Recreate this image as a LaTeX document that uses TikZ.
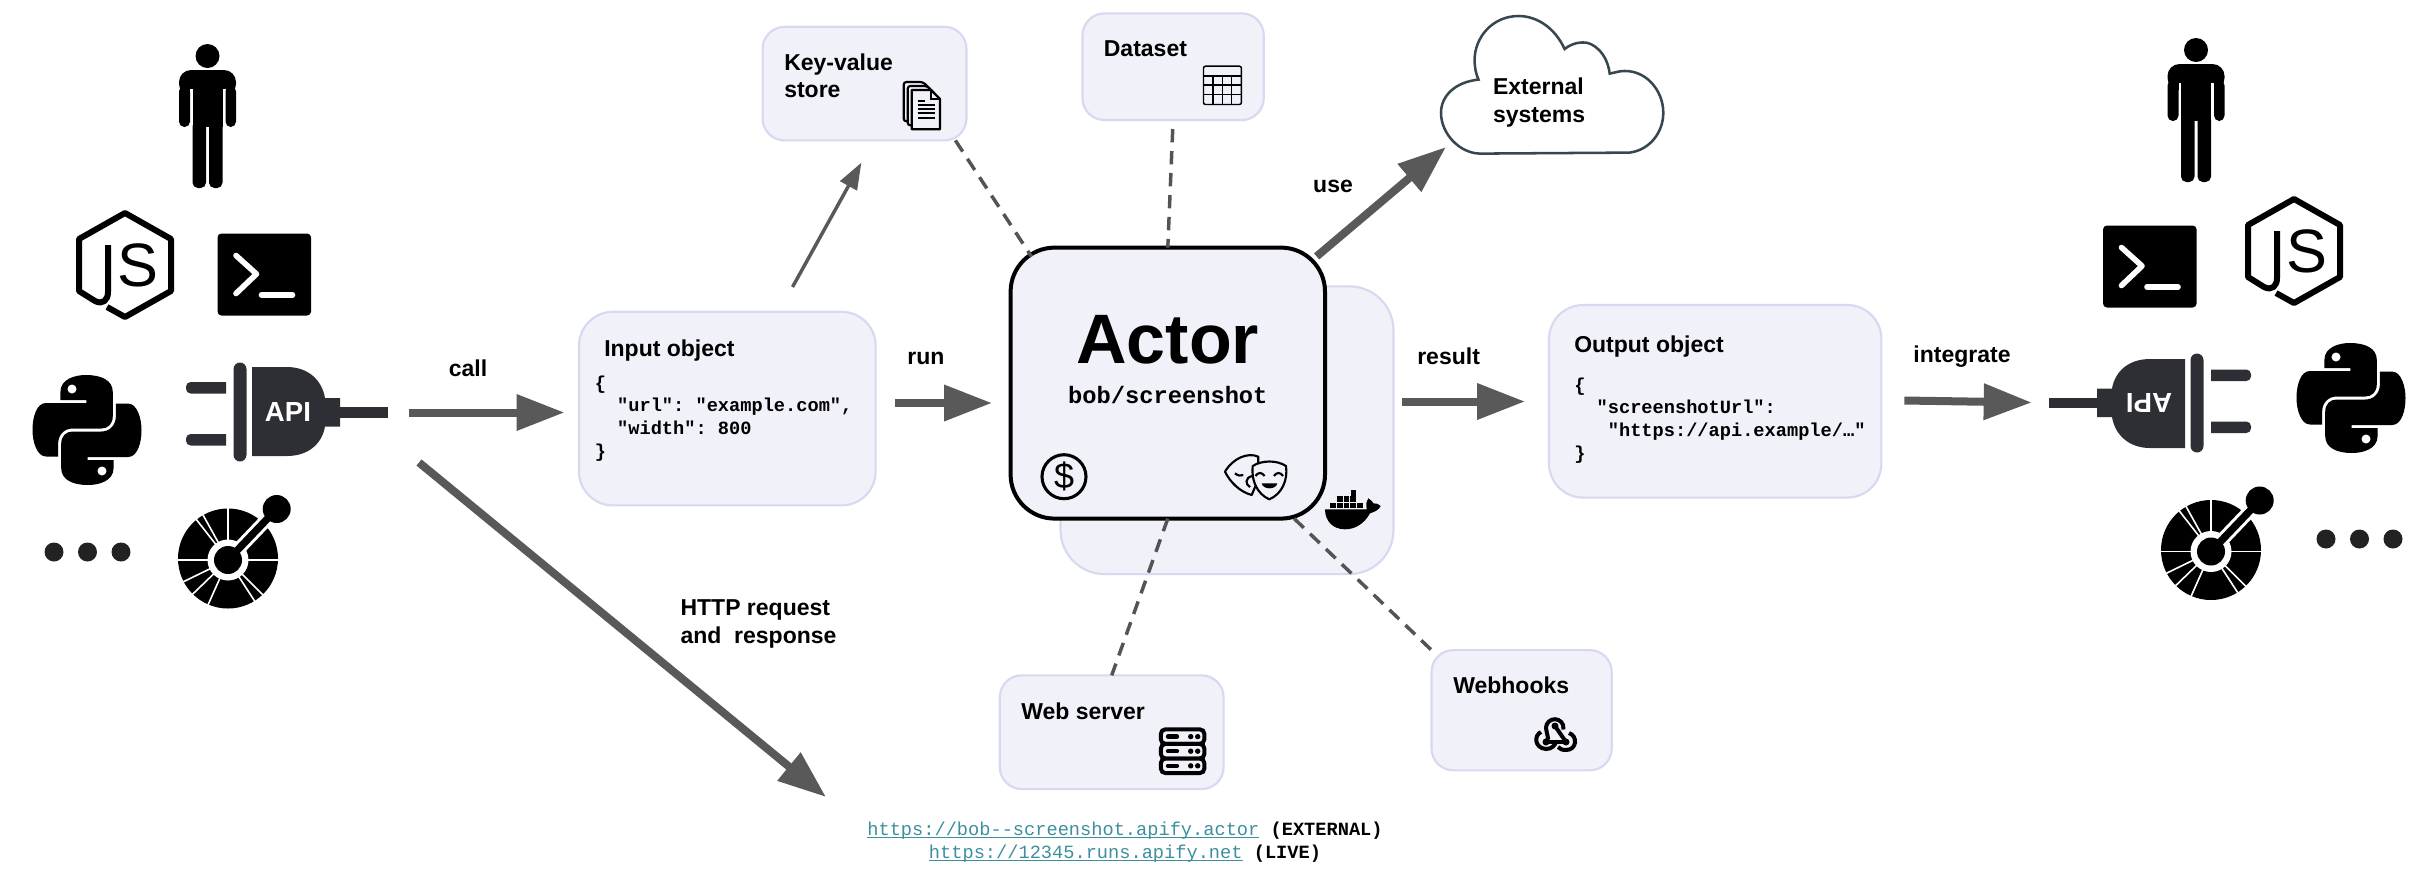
\documentclass[tikz,border=0pt]{standalone}
\usepackage{fontspec}
\setmainfont{Liberation Sans}
\setmonofont{Liberation Mono}
\usetikzlibrary{arrows.meta}

\definecolor{plugdark}{RGB}{45,47,52}
\definecolor{linkteal}{RGB}{61,143,158}
\definecolor{panelfill}{RGB}{240,241,249}
\definecolor{paneledge}{RGB}{214,217,240}
\definecolor{flowgray}{RGB}{89,89,89}
\definecolor{dashgray}{RGB}{84,84,84}
\definecolor{clouddark}{RGB}{55,71,79}
\definecolor{dotdark}{RGB}{34,34,34}

\newcommand{\urlline}[1]{\textcolor{linkteal}{\setbox0=\hbox{\mdseries #1}\rlap{\rule[-2.2pt]{\wd0}{1.1pt}}\box0}}

\tikzset{
    every pic/.style={yscale=-1},
    panel/.style={draw=paneledge, fill=panelfill, line width=1.6pt, inner sep=0pt, outer sep=0pt},
    actorpanel/.style={panel, draw=black, line width=3pt, rounded corners=33pt},
    boxtitle/.style={anchor=west, inner sep=0pt, align=left, font=\fontsize{17.25}{20.5}\selectfont\bfseries},
    flowlabel/.style={inner sep=0pt, font=\fontsize{17.25}{20.5}\selectfont\bfseries},
    codetext/.style={anchor=north west, inner sep=0pt, align=left, font=\fontsize{14}{17}\selectfont\ttfamily\bfseries},
    flow/.style={draw=flowgray, line width=6pt, -{Triangle[length=36pt,width=26pt]}},
    thinflow/.style={draw=flowgray, line width=2.6pt, -{Triangle[length=20pt,width=14pt]}},
    dashlink/.style={draw=dashgray, line width=2.6pt, dash pattern=on 10pt off 6.5pt},
    icon/.style={line width=1.6pt, draw=black},
    plugtext/.style={},
    person/.pic={
        \fill (0,0) circle (12);
        \fill[rounded corners=9pt] (-28.5,40) -- (-28.5,14) -- (28.5,14) -- (28.5,40) -- cycle;
        \fill[white] (-17.5,33) rectangle (-15,80);
        \fill[white] (15,33) rectangle (18,80);
        \fill[white] (-29,40) rectangle (-17.5,45);
        \fill[rounded corners=4pt] (-28.5,30) rectangle (-17.5,71);
        \fill[rounded corners=4pt] (18,30) rectangle (28.5,71);
        \fill (-15,25) rectangle (15,71);
        \fill[rounded corners=4pt] (-15,65) rectangle (-1.5,132);
        \fill[rounded corners=4pt] (1.5,65) rectangle (15,132);
    },
    jslogo/.pic={
        \draw[line width=4.5pt, line join=round] (-18,42) -- (0,52) -- (46,26) -- (46,-26) -- (0,-52) -- (-46,-26) -- (-46,26) -- (-30,36) .. controls (-22,40) and (-17,35) .. (-17,27) -- (-17,-20);
        \node[inner sep=0pt, font=\fontsize{46}{46}\selectfont] (-s) at (13,0) {S};
    },
    termlogo/.pic={
        \fill[rounded corners=3pt] (0,0) rectangle (93.6,82);
        \draw[white, line width=4.2pt, line cap=round, line join=round] (18.5,22) -- (39,40.5) -- (18.5,60);
        \draw[white, line width=4.2pt, line cap=round] (44,61.5) -- (75,61.5);
    },
    pylogo/.pic={
        \foreach \r in {0,180} {
            \begin{scope}[rotate=\r]
                \fill (-26.6,-38) .. controls (-26.6,-51) and (-12,-55) .. (-1,-55) .. controls (14,-55) and (25.8,-50) .. (25.8,-38) -- (25.8,-14) .. controls (25.8,-6) and (21,-1.5) .. (14.3,-1.5) -- (-14.3,-1.5) .. controls (-23,-1.5) and (-28.9,5) .. (-28.9,14) -- (-28.9,26.5) -- (-41,26.5) .. controls (-50,26.5) and (-54.5,12) .. (-54.5,0) .. controls (-54.5,-14) and (-50,-27) .. (-41,-27) -- (-0.6,-27) -- (-0.6,-30) -- (-26.6,-30) -- cycle;
                \fill[white] (-15,-41) circle (4.5);
            \end{scope}
        }
    },
    plug/.pic={
        \fill[plugdark] (-14,-30) [rounded corners=3.5pt] -- (-54,-30) -- (-54,-18.5) [sharp corners] -- (-14,-18.5) -- cycle;
        \fill[plugdark] (-14,22) [rounded corners=3.5pt] -- (-54,22) -- (-54,33.5) [sharp corners] -- (-14,33.5) -- cycle;
        \fill[plugdark, rounded corners=4.9pt] (-6.5,-49.5) rectangle (6.5,49.5);
        \fill[plugdark] (12,-45) -- (47,-45) .. controls (68,-45) and (82,-32) .. (85,-14) -- (100,-14) -- (100,14.5) -- (85,14.5) .. controls (82,32) and (68,44) .. (47,44) -- (12,44) -- cycle;
        \fill[plugdark] (100,-5) rectangle (148,5.5);
        \node[plugtext, text=white, inner sep=0pt, font=\fontsize{20.7}{24}\selectfont\bfseries] (-s) at (48,0) {API};
    },
    openapilogo/.pic={
        \fill (0,0) circle (50);
        \foreach \a in {-90,-119,-128,180,154,136,114,57,45,0} {
            \draw[white, line width=1.2pt] (0,1.5) -- ++(\a:52);
        }
        \draw[white, line width=10pt] (0,1.5) -- (48.7,-49.5);
        \fill[white] (0,1.5) circle (20.5);
        \fill (0,1.5) circle (14);
        \draw[line width=5.5pt] (0,1.5) -- (48.7,-49.5);
        \fill (48.7,-49.5) circle (14);
    },
    threedots/.pic={
        \foreach \x in {-33.5,0,33.5} {
            \fill[dotdark] (\x,0) circle (9.5);
        }
    }
}

\begin{document}
\begin{tikzpicture}[x=0.75pt,y=0.75pt,yscale=-1,xscale=1]
    \useasboundingbox (0,0) rectangle (2432,876);

    %Left clients
    \pic at (207.5,56) {person};
    \pic at (125,265) {jslogo};
    \pic at (217.5,233.5) {termlogo};
    \pic at (87,430) {pylogo};
    \pic at (240,412) {plug};
    \pic at (87.5,552) {threedots};
    \pic at (228,558.5) {openapilogo};

    %Right clients
    \pic at (2196,50) {person};
    \pic at (2294,251) {jslogo};
    \pic at (2103,225.5) {termlogo};
    \pic at (2351,398) {pylogo};
    \pic[rotate=180, plugtext/.style={rotate=180}] at (2197,403) {plug};
    \pic at (2359.5,539) {threedots};
    \pic at (2211,550) {openapilogo};

    %Boxes
    \node[panel, rounded corners=16.5pt, minimum width=152.9pt, minimum height=85.2pt] (kvstore) at (864.5,83.6) {};
    \node[panel, rounded corners=16.5pt, minimum width=136pt, minimum height=80pt] (dataset) at (1173.1,66.7) {};
    \node[panel, rounded corners=25.5pt, minimum width=222.5pt, minimum height=145.2pt] (input) at (727.3,408.6) {};
    \node[panel, rounded corners=33pt, minimum width=249.7pt, minimum height=215.8pt] (actorback) at (1227,430.2) {};
    \node[actorpanel, minimum width=235.8pt, minimum height=203.25pt] (actor) at (1167.8,383.1) {};
    \node[panel, rounded corners=25.5pt, minimum width=249.3pt, minimum height=144.4pt] (output) at (1715.2,401.3) {};
    \node[panel, rounded corners=16.5pt, minimum width=167.9pt, minimum height=85.3pt] (webserver) at (1111.7,732.2) {};
    \node[panel, rounded corners=16.5pt, minimum width=135.2pt, minimum height=90.2pt] (webhooks) at (1521.6,710.2) {};

    %Shape: Cloud
    \draw[draw=clouddark, line width=1.9pt, fill=white] (1480.4,153.6) -- (1629.6,152.6) .. controls (1650,150) and (1663.3,132) .. (1663.3,112.8) .. controls (1663.3,90) and (1645,68) .. (1620,71.3) -- (1609.7,73.6) .. controls (1607,52) and (1592,42) .. (1583.7,42.5) .. controls (1576,42) and (1568,46) .. (1564.6,49) .. controls (1555,28) and (1537,16) .. (1518.6,16) .. controls (1492,16) and (1474.6,38) .. (1474.6,59.7) .. controls (1474.6,68) and (1476,74) .. (1478.5,79.6) .. controls (1455,82) and (1441,96) .. (1441,112.8) .. controls (1441,134) and (1460,153.6) .. (1480.4,153.6) -- cycle;

    %Free ends
    \coordinate (callstart) at (409,412.5);
    \coordinate (callend) at (564.5,412.5);
    \coordinate (httpstart) at (419,462.5);
    \coordinate (httpend) at (826,797);
    \coordinate (kvstart) at (792.5,287);
    \coordinate (kvend) at (861.4,162.6);
    \coordinate (runstart) at (895,403);
    \coordinate (runend) at (992,403);
    \coordinate (usestart) at (1316.6,256.4);
    \coordinate (useend) at (1446,147);
    \coordinate (resultstart) at (1402,401.5);
    \coordinate (resultend) at (1525,401.5);
    \coordinate (integratestart) at (1904.4,400.5);
    \coordinate (integrateend) at (2031.7,402.5);

    %Straight Lines
    \draw[flow] (callstart) -- (callend);
    \draw[flow] (httpstart) -- (httpend);
    \draw[thinflow] (kvstart) -- (kvend);
    \draw[flow] (runstart) -- (runend);
    \draw[flow] (usestart) -- (useend);
    \draw[flow] (resultstart) -- (resultend);
    \draw[flow] (integratestart) -- (integrateend);

    %Dashed Lines
    \draw[dashlink] (kvstore.-32) -- ([shift={(9,9)}]actor.137);
    \draw[dashlink, shorten <=6.75pt] (dataset.south) -- (actor.north);
    \draw[dashlink] (actor.south) -- (webserver.north);
    \draw[dashlink] (actor.-47) -- (webhooks.north west);

    %Documents icon
    \foreach \d in {2,1} {
        \draw[icon, fill=panelfill, rounded corners=2pt] (911.7-4*\d,90-4*\d) -- (931-4*\d,90-4*\d) -- (940-4*\d,99-4*\d) -- (940-4*\d,129.3-4*\d) -- (911.7-4*\d,129.3-4*\d) -- cycle;
    }
    \draw[icon, fill=panelfill, line join=round] (911.7,90) -- (931,90) -- (940,99) -- (940,129.3) -- (911.7,129.3) -- cycle;
    \draw[icon] (931,90) -- (931,99) -- (940,99);
    \draw[icon] (917.7,100.7) -- (925,100.7);
    \foreach \y in {105,109.3,113.3,117.7} {
        \draw[icon] (917.7,\y) -- (935,\y);
    }

    %Table icon
    \draw[icon, line width=1.1pt, rounded corners=1.5pt] (1203.5,66.2) rectangle (1241.4,104.5);
    \foreach \y in {75.8,85,94.5} {
        \draw[icon, line width=1.1pt] (1203.5,\y) -- (1241.4,\y);
    }
    \foreach \x in {1212.8,1222.5,1231.6} {
        \draw[icon, line width=1.1pt] (\x,75.8) -- (\x,104.5);
    }

    %Server icon
    \foreach \y in {729.3,743.9,758.5} {
        \draw[icon, line width=3pt, fill=panelfill, rounded corners=3.5pt] (1160.8,\y) rectangle (1204.4,\y+14.6);
        \draw[line width=3.2pt, line cap=round] (1168,\y+7.3) -- (1177,\y+7.3);
        \fill (1190.7,\y+7.3) circle (2.7);
        \fill (1197.7,\y+7.3) circle (2.7);
    }

    %Webhook icon
    \draw[line width=3pt] (1566,742) -- (1546,742);
    \draw[line width=3pt] (1555,726) -- (1566,742);
    \draw[line width=3pt] (1546,742) -- (1548,738) -- (1546.5,731) arc[start angle=160, end angle=370, radius=8.8];
    \draw[line width=3pt] (1541,732) .. controls (1534,735) and (1534,748) .. (1546,749) .. controls (1552,749) and (1555,745) .. (1556,742);
    \draw[line width=3pt] (1569,733) .. controls (1578,736) and (1577,750) .. (1566,750) .. controls (1562,750) and (1560,749) .. (1558,747);
    \fill (1555,726) circle (3.5);
    \fill (1546,742) circle (3.5);
    \fill (1566,742) circle (3.5);

    %Coin icon
    \draw[line width=2.3pt] (1064,476.7) circle (22);
    \node[inner sep=0pt, font=\fontsize{27}{27}\selectfont] (coinmark) at (1064,476.7) {\$};

    %Masks icon
    \draw[icon, fill=panelfill, line join=round] (1258.3,456.7) .. controls (1248,452) and (1233,458) .. (1225,471.7) .. controls (1230,482) and (1240,492) .. (1251.7,495) -- (1258,480) -- cycle;
    \draw[icon] (1235,473.3) .. controls (1238,476) and (1241,476) .. (1243.3,475);
    \draw[icon] (1252,476) .. controls (1245,478) and (1245,484) .. (1250,487);
    \draw[icon, fill=panelfill, line join=round] (1252.7,466) .. controls (1262,460) and (1277,460) .. (1286,466) .. controls (1288,480) and (1282,494) .. (1269.3,499.3) .. controls (1257,494) and (1251,480) .. (1252.7,466) -- cycle;
    \draw[icon] (1255.5,476) .. controls (1258,472) and (1262,472) .. (1264.5,476);
    \draw[icon] (1274,476) .. controls (1276.5,472) and (1280.5,472) .. (1283,476);
    \fill (1261.7,483.3) -- (1277.3,483.3) .. controls (1276,490) and (1263,490) .. (1261.7,483.3) -- cycle;

    %Docker icon
    \fill (1325,509.3) -- (1366.7,509.3) .. controls (1366,504) and (1366,501) .. (1368.3,498.3) .. controls (1371,500) and (1373,502) .. (1373.3,503.3) .. controls (1376,503) and (1379,504) .. (1380.7,506) .. controls (1379,510) and (1374,512) .. (1370,513.3) .. controls (1364,524) and (1355,529.3) .. (1345,529.3) .. controls (1332,529.3) and (1325,520) .. (1325,509.3) -- cycle;
    \foreach \x/\y in {1350.7/490,1337/496,1343.7/496,1350.4/496,1330.3/502.5,1337/502.5,1343.7/502.5,1350.4/502.5,1357/502.5} {
        \fill (\x,\y) rectangle (\x+5.7,\y+5.7);
    }

    % Text Node
    \node[boxtitle] (kvtitle) at (784,75.5) {Key-value\\store};
    % Text Node
    \node[boxtitle] (datasettitle) at (1103.6,48.6) {Dataset};
    % Text Node
    \node[boxtitle] (inputtitle) at (604,350.5) {Input object};
    % Text Node
    \node[codetext] (inputcode) at (594.5,375.5) {\{\\\phantom{xx}"url": "example.com",\\\phantom{xx}"width": 800\\\}};
    % Text Node
    \node[inner sep=0pt, font=\fontsize{52.5}{60}\selectfont\bfseries] (actortitle) at (1167.8,339.5) {Actor};
    % Text Node
    \node[inner sep=0pt, font=\fontsize{17.8}{20}\selectfont\ttfamily\bfseries] (actorname) at (1167.8,395.3) {bob/screenshot};
    % Text Node
    \node[boxtitle] (outputtitle) at (1574,346.5) {Output object};
    % Text Node
    \node[codetext] (outputcode) at (1574,377.5) {\{\\\phantom{xx}"screenshotUrl":\\\phantom{xxx}"https://api.example/…"\\\}};
    % Text Node
    \node[boxtitle] (webservertitle) at (1021,711.2) {Web server};
    % Text Node
    \node[boxtitle] (webhookstitle) at (1453,685.3) {Webhooks};
    % Text Node
    \node[boxtitle] (cloudtitle) at (1492.8,102.5) {External\\systems};
    % Text Node
    \node[flowlabel] (calllabel) at (468,368.5) {call};
    % Text Node
    \node[flowlabel] (runlabel) at (926,358.7) {run};
    % Text Node
    \node[flowlabel] (uselabel) at (1333,186.8) {use};
    % Text Node
    \node[flowlabel] (resultlabel) at (1448.6,356) {result};
    % Text Node
    \node[flowlabel] (integratelabel) at (1962,357) {integrate};
    % Text Node
    \node[flowlabel, align=center] (httplabel) at (758.5,624) {HTTP request\ \ \\and\ \ response};
    % Text Node
    \node[inner sep=0pt, align=center, font=\fontsize{14}{17}\selectfont\ttfamily\bfseries] (urllabel) at (1125,842) {\urlline{https://bob--screenshot.apify.actor} (EXTERNAL)\\\urlline{https://12345.runs.apify.net} (LIVE)};
\end{tikzpicture}
\end{document}
